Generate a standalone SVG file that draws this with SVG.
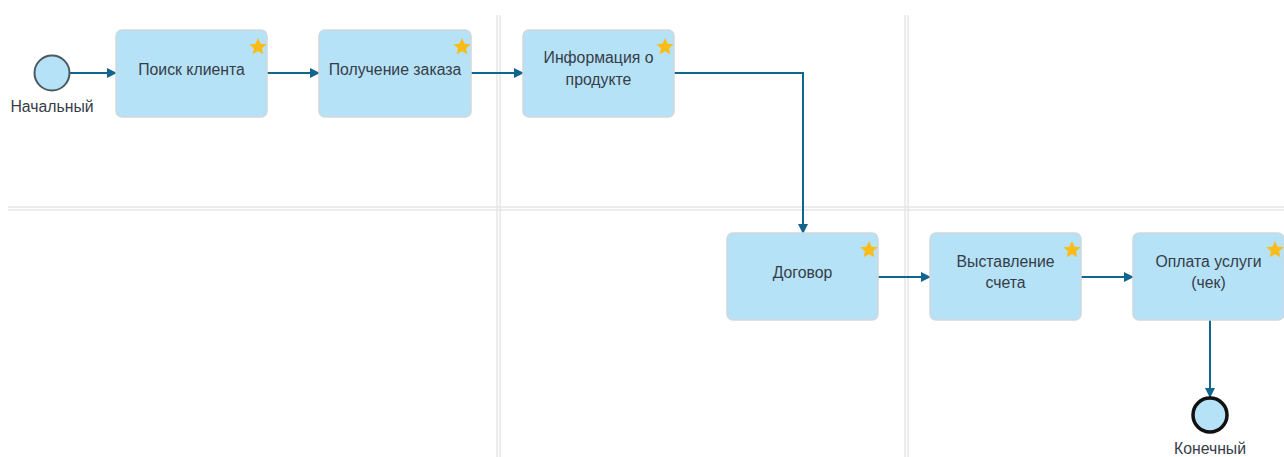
<svg xmlns="http://www.w3.org/2000/svg" width="1284" height="457" viewBox="0 0 1284 457">
<style>
.grid{stroke:#e6e6e6;stroke-width:1.5;fill:none}
.task rect{fill:#b5e2f7;stroke:#cfd8dc;stroke-width:1.5}
.task text,.lbl{font-family:"Liberation Sans",Arial,sans-serif;font-size:15.8px;fill:#363c48;text-anchor:middle}
.star{fill:#fbbc18}
.conn path{stroke:#12658f;stroke-width:2;fill:none;marker-end:url(#arr)}
</style>
<defs>
<marker id="arr" markerWidth="10" markerHeight="10" refX="9" refY="5" orient="auto" markerUnits="userSpaceOnUse">
<path d="M0,0 L10,5 L0,10 Z" fill="#12658f"/>
</marker>
<polygon id="st" class="star" points="0,-9 2.6,-3.2 8.6,-2.8 4.1,1.3 5.3,7.3 0,4.2 -5.3,7.3 -4.1,1.3 -8.6,-2.8 -2.6,-3.2"/>
</defs>
<rect width="1284" height="457" fill="#fff"/>
<g id="grid">
<line class="grid" x1="497" y1="15" x2="497" y2="457"/>
<line class="grid" x1="500" y1="15" x2="500" y2="457"/>
<line class="grid" x1="905" y1="15" x2="905" y2="457"/>
<line class="grid" x1="908" y1="15" x2="908" y2="457"/>
<line class="grid" x1="8" y1="207" x2="1284" y2="207"/>
<line class="grid" x1="8" y1="210" x2="1284" y2="210"/>
</g>
<g id="connectors" class="conn">
<path d="M70,73 H116"/>
<path d="M267,73 H319"/>
<path d="M471,73 H523"/>
<path d="M674,73 H803 V233"/>
<path d="M878,277 H930"/>
<path d="M1081,277 H1133"/>
<path d="M1210,320 V397"/>
</g>
<g id="start">
<circle cx="52" cy="73" r="17.5" fill="#b5e2f7" stroke="#4a5a60" stroke-width="2"/>
<text class="lbl" x="52" y="112">Начальный</text>
</g>
<g id="t1" class="task">
<rect x="116" y="30" width="151" height="87" rx="6"/>
<use href="#st" x="258" y="47"/>
<text x="191.5" y="75">Поиск клиента</text>
</g>
<g id="t2" class="task">
<rect x="319" y="30" width="152" height="87" rx="6"/>
<use href="#st" x="462" y="47"/>
<text x="395" y="75">Получение заказа</text>
</g>
<g id="t3" class="task">
<rect x="523" y="30" width="151" height="87" rx="6"/>
<use href="#st" x="665" y="47"/>
<text x="598.5" y="63">Информация о</text>
<text x="598.5" y="85">продукте</text>
</g>
<g id="t4" class="task">
<rect x="727" y="233" width="151" height="87" rx="6"/>
<use href="#st" x="869" y="250"/>
<text x="802.5" y="278">Договор</text>
</g>
<g id="t5" class="task">
<rect x="930" y="233" width="151" height="87" rx="6"/>
<use href="#st" x="1072" y="250"/>
<text x="1005.5" y="267">Выставление</text>
<text x="1005.5" y="288">счета</text>
</g>
<g id="t6" class="task">
<rect x="1133" y="233" width="151" height="87" rx="6"/>
<use href="#st" x="1275" y="250"/>
<text x="1208.5" y="267">Оплата услуги</text>
<text x="1208.5" y="288">(чек)</text>
</g>
<g id="end">
<circle cx="1210" cy="415" r="17" fill="#b5e2f7" stroke="#111" stroke-width="3.5"/>
<text class="lbl" x="1210" y="454">Конечный</text>
</g>
</svg>
